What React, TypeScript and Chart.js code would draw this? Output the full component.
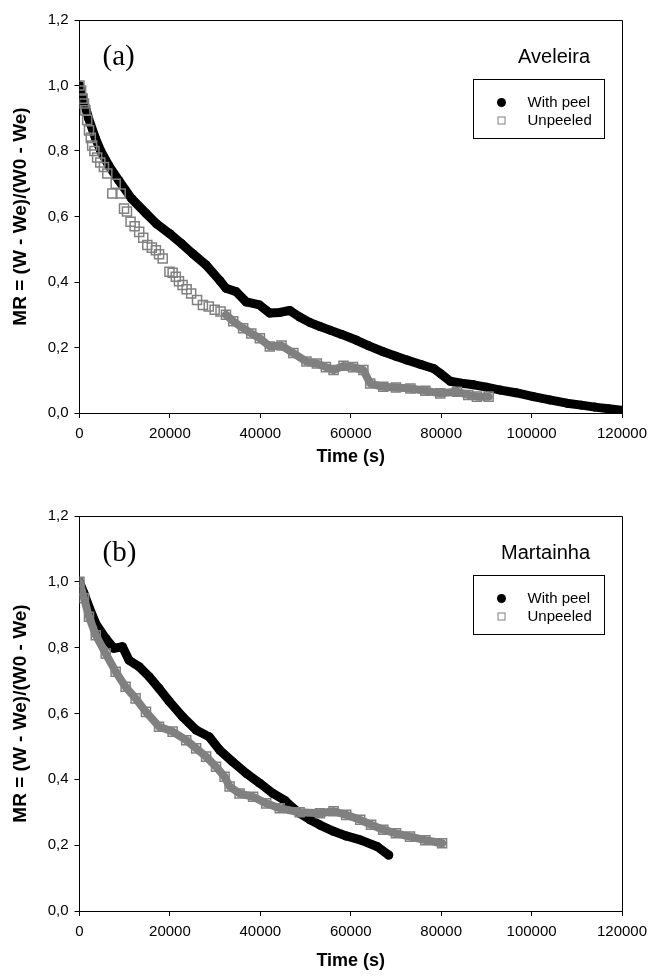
import React, { useEffect, useRef } from 'react';
import { Chart, registerables } from 'chart.js';

Chart.register(...registerables);

// ---------- data ----------
const seriesLabels = ['With peel', 'Unpeeled'];
const panelLetters = ['(a)', '(b)'];
const cultivarNames = ['Aveleira', 'Martainha'];
const xAxisTitle = 'Time (s)';
const yAxisTitle = 'MR = (W - We)/(W0 - We)';
const xTickValues = [0, 20000, 40000, 60000, 80000, 100000, 120000];
const yTickValues = [0, 0.2, 0.4, 0.6, 0.8, 1.0, 1.2];

// (a) Aveleira — with peel
const aveleiraPeelTime = [0, 1000, 2000, 3500, 4700, 6500, 8700, 11500, 14700, 17000, 19900, 22500, 25000, 28000, 31000, 32400, 34700, 36900, 39800, 42100, 44300, 46500, 48700, 51000, 53200, 55400, 58000, 61300, 64000, 67200, 70000, 72400, 75500, 78300, 79800, 82000, 84500, 87200, 90000, 93100, 96500, 100400, 104000, 107800, 111000, 114000, 117000, 120000];
const aveleiraPeelMR = [1.0, 0.95, 0.9, 0.84, 0.8, 0.755, 0.71, 0.655, 0.61, 0.578, 0.548, 0.518, 0.487, 0.452, 0.405, 0.381, 0.37, 0.339, 0.33, 0.305, 0.307, 0.313, 0.293, 0.276, 0.264, 0.253, 0.24, 0.222, 0.205, 0.187, 0.173, 0.162, 0.148, 0.136, 0.121, 0.097, 0.091, 0.086, 0.079, 0.07, 0.062, 0.05, 0.04, 0.03, 0.024, 0.018, 0.013, 0.008];

// (a) Aveleira — unpeeled
const aveleiraUnpeeledTime = [0, 350, 700, 1000, 1300, 1700, 2100, 2500, 2800, 3300, 3900, 4600, 5400, 6150, 7260, 8000, 9110, 9850, 10500, 11300, 12200, 13200, 14100, 15000, 16000, 16900, 17600, 18400, 19900, 20600, 21300, 22000, 22800, 23700, 24700, 26000, 27300, 28600, 29900, 31200, 32400, 34000, 36200, 38000, 39900, 42100, 44700, 47300, 50200, 52500, 54500, 56200, 58400, 60500, 62800, 64300, 67200, 70000, 73200, 76500, 79800, 83500, 86000, 87900, 90500];
const aveleiraUnpeeledMR = [1.0, 0.985, 0.96, 0.945, 0.924, 0.895, 0.863, 0.84, 0.817, 0.8, 0.78, 0.765, 0.751, 0.731, 0.67, 0.7, 0.67, 0.624, 0.615, 0.584, 0.57, 0.553, 0.535, 0.513, 0.505, 0.497, 0.485, 0.472, 0.431, 0.428, 0.416, 0.402, 0.391, 0.378, 0.365, 0.345, 0.33, 0.325, 0.315, 0.31, 0.3, 0.28, 0.259, 0.243, 0.228, 0.203, 0.206, 0.183, 0.157, 0.151, 0.14, 0.131, 0.144, 0.14, 0.131, 0.09, 0.08, 0.078, 0.075, 0.068, 0.06, 0.065, 0.055, 0.05, 0.05];

// (b) Martainha — with peel
const martainhaPeelTime = [0, 1000, 2100, 3600, 5800, 7600, 8500, 9500, 10960, 13200, 15400, 17600, 19900, 22800, 25800, 28700, 31000, 33900, 36900, 39900, 42800, 45500, 47300, 48700, 51000, 53200, 56200, 59000, 62100, 65800, 68400];
const martainhaPeelMR = [1.0, 0.965, 0.924, 0.873, 0.828, 0.798, 0.8, 0.803, 0.762, 0.742, 0.712, 0.676, 0.636, 0.59, 0.55, 0.529, 0.489, 0.453, 0.418, 0.388, 0.357, 0.335, 0.312, 0.297, 0.277, 0.261, 0.242, 0.228, 0.216, 0.196, 0.17];

// (b) Martainha — unpeeled
const martainhaUnpeeledTime = [0, 1000, 2100, 3600, 5800, 8000, 10200, 12400, 14700, 17600, 20600, 23600, 25800, 28000, 30200, 32100, 33200, 35400, 38400, 41300, 44300, 48700, 53200, 56200, 59000, 62100, 64500, 67200, 70000, 73100, 76500, 80200];
const martainhaUnpeeledMR = [1.0, 0.95, 0.894, 0.838, 0.782, 0.727, 0.681, 0.646, 0.605, 0.56, 0.545, 0.519, 0.494, 0.469, 0.438, 0.408, 0.378, 0.357, 0.347, 0.327, 0.312, 0.3, 0.297, 0.303, 0.292, 0.277, 0.262, 0.247, 0.236, 0.226, 0.215, 0.206];

// ---------- styling ----------
const BLACK = '#000000';
const GRAY = '#808080';
const SANS = '"Liberation Sans", Arial, sans-serif';
const SERIF = '"Liberation Serif", "Times New Roman", serif';
const CANVAS_W = 649;
const CANVAS_H = 488;

type Panel = {
  letter: string;
  name: string;
  peelT: number[];
  peelMR: number[];
  unT: number[];
  unMR: number[];
  grayBandFrom: number;
  padTop: number;
  xAxisHeight: number;
  titlePadBottom: number;
};

const panels: Panel[] = [
  {
    letter: panelLetters[0],
    name: cultivarNames[0],
    peelT: aveleiraPeelTime,
    peelMR: aveleiraPeelMR,
    unT: aveleiraUnpeeledTime,
    unMR: aveleiraUnpeeledMR,
    grayBandFrom: 32000,
    padTop: 20,
    xAxisHeight: 75,
    titlePadBottom: 20,
  },
  {
    letter: panelLetters[1],
    name: cultivarNames[1],
    peelT: martainhaPeelTime,
    peelMR: martainhaPeelMR,
    unT: martainhaUnpeeledTime,
    unMR: martainhaUnpeeledMR,
    grayBandFrom: 0,
    padTop: 28,
    xAxisHeight: 65,
    titlePadBottom: 4,
  },
];

function decorPlugin(panel: Panel) {
  return {
    id: 'decor',
    afterDraw(chart: any) {
      const { ctx, chartArea: a } = chart;
      ctx.save();
      ctx.strokeStyle = BLACK;
      ctx.lineWidth = 1;
      ctx.beginPath();
      ctx.moveTo(a.left, Math.round(a.top) + 0.5);
      ctx.lineTo(Math.round(a.right) + 0.5, Math.round(a.top) + 0.5);
      ctx.lineTo(Math.round(a.right) + 0.5, a.bottom);
      ctx.stroke();

      ctx.fillStyle = BLACK;
      ctx.textBaseline = 'middle';
      ctx.textAlign = 'left';
      ctx.font = `29px ${SERIF}`;
      ctx.fillText(panel.letter, a.left + 23, a.top + 37);

      ctx.textAlign = 'right';
      ctx.font = `20px ${SANS}`;
      ctx.fillText(panel.name, a.right - 32, a.top + 37);

      const bw = 131;
      const bh = 59;
      const bx = Math.round(a.right - 18 - bw) + 0.5;
      const by = Math.round(a.top + 59) + 0.5;
      ctx.strokeRect(bx, by, bw, bh);

      ctx.beginPath();
      ctx.arc(bx + 28, by + 23, 4.5, 0, Math.PI * 2);
      ctx.fillStyle = BLACK;
      ctx.fill();

      ctx.strokeStyle = GRAY;
      ctx.lineWidth = 1;
      ctx.strokeRect(bx + 24.5, by + 37.5, 7, 7);

      ctx.fillStyle = BLACK;
      ctx.textAlign = 'left';
      ctx.font = `15px ${SANS}`;
      ctx.fillText(seriesLabels[0], bx + 54, by + 23);
      ctx.fillText(seriesLabels[1], bx + 54, by + 41);
      ctx.restore();
    },
  };
}

function makeConfig(panel: Panel): any {
  const peelData = panel.peelT.map((x, i) => ({ x, y: panel.peelMR[i] }));
  const unData = panel.unT.map((x, i) => ({ x, y: panel.unMR[i] }));
  return {
    type: 'scatter',
    data: {
      datasets: [
        {
          label: seriesLabels[0],
          data: peelData,
          showLine: true,
          borderColor: BLACK,
          borderWidth: 9,
          borderCapStyle: 'round',
          borderJoinStyle: 'round',
          pointStyle: 'circle',
          pointRadius: 4.5,
          pointBackgroundColor: BLACK,
          pointBorderColor: BLACK,
          pointBorderWidth: 0,
          order: 2,
        },
        {
          label: seriesLabels[1],
          data: unData,
          showLine: true,
          borderColor: GRAY,
          borderWidth: 8,
          borderCapStyle: 'round',
          borderJoinStyle: 'round',
          segment: {
            borderColor: (c: any) => (c.p0.parsed.x >= panel.grayBandFrom ? GRAY : 'rgba(0,0,0,0)'),
          },
          pointStyle: 'rect',
          pointRadius: 6.4,
          pointBackgroundColor: 'rgba(0,0,0,0)',
          pointBorderColor: GRAY,
          pointBorderWidth: 1.5,
          order: 1,
        },
      ],
    },
    options: {
      animation: false,
      responsive: false,
      maintainAspectRatio: false,
      events: [],
      layout: { padding: { top: panel.padTop, right: 27, left: 0, bottom: 0 } },
      plugins: { legend: { display: false }, tooltip: { enabled: false } },
      scales: {
        x: {
          type: 'linear',
          min: 0,
          max: 120000,
          afterBuildTicks: (s: any) => {
            s.ticks = xTickValues.map((v) => ({ value: v }));
          },
          afterFit: (s: any) => {
            s.height = panel.xAxisHeight;
            s.paddingLeft = 0;
            s.paddingRight = 0;
          },
          grid: { display: true, drawOnChartArea: false, drawTicks: true, tickLength: 5, color: BLACK },
          border: { display: true, color: BLACK, width: 1 },
          ticks: {
            color: BLACK,
            font: { family: SANS, size: 15 },
            padding: 7,
            maxRotation: 0,
            autoSkip: false,
            callback: (v: any) => String(v),
          },
          title: {
            display: true,
            text: xAxisTitle,
            color: BLACK,
            font: { family: SANS, size: 18, weight: 'bold' },
            padding: { top: 0, bottom: panel.titlePadBottom },
          },
        },
        y: {
          type: 'linear',
          min: 0,
          max: 1.2,
          afterBuildTicks: (s: any) => {
            s.ticks = yTickValues.map((v) => ({ value: v }));
          },
          afterFit: (s: any) => {
            s.width = 79.5;
            s.paddingTop = 0;
            s.paddingBottom = 0;
          },
          grid: { display: true, drawOnChartArea: false, drawTicks: true, tickLength: 5, color: BLACK },
          border: { display: true, color: BLACK, width: 1 },
          ticks: {
            color: BLACK,
            font: { family: SANS, size: 15 },
            padding: 6,
            autoSkip: false,
            callback: (v: any) => Number(v).toFixed(1).replace('.', ','),
          },
          title: {
            display: true,
            text: yAxisTitle,
            color: BLACK,
            font: { family: SANS, size: 19, weight: 'bold' },
            padding: { top: 9, bottom: 0 },
          },
        },
      },
    },
    plugins: [decorPlugin(panel)],
  };
}

function PanelChart({ panel, top }: { panel: Panel; top: number }) {
  const ref = useRef<HTMLCanvasElement | null>(null);
  useEffect(() => {
    if (!ref.current) return;
    const chart = new Chart(ref.current, makeConfig(panel));
    return () => chart.destroy();
  }, [panel]);
  return (
    <canvas
      ref={ref}
      width={CANVAS_W}
      height={CANVAS_H}
      style={{ position: 'absolute', left: 0, top, width: CANVAS_W, height: CANVAS_H }}
    />
  );
}

export default function App() {
  return (
    <div style={{ position: 'absolute', left: 0, top: 0, width: 649, height: 976, background: '#fff' }}>
      <PanelChart panel={panels[0]} top={0} />
      <PanelChart panel={panels[1]} top={488} />
    </div>
  );
}
